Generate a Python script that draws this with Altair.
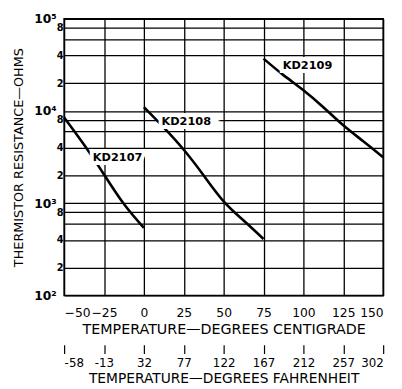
import altair as alt
import pandas as pd

# ---- data ----
c_ticks = [-50, -25, 0, 25, 50, 75, 100, 125, 150]
f_labels = ["-58", "-13", "32", "77", "122", "167", "212", "257", "302"]
y_grid = [100, 200, 400, 600, 800, 1000, 2000, 4000, 6000, 8000,
          10000, 20000, 40000, 60000, 80000, 100000]

kd2107_t = [-50, -37.5, -25, -12.5, 0]
kd2107_r = [8500, 4300, 2050, 980, 540]
kd2108_t = [0, 12.5, 25, 37.5, 50, 62.5, 75]
kd2108_r = [11000, 6600, 3800, 2000, 1050, 650, 410]
kd2109_t = [75, 87.5, 100, 112.5, 125, 137.5, 150]
kd2109_r = [37000, 24500, 16800, 11000, 7000, 4700, 3150]

label_names = ["KD2107", "KD2108", "KD2109"]
label_t = [-32, 11, 87]
label_r = [3100, 7600, 30800]

FONT = "DejaVu Sans"

rows = []
for name, ts, rs in [("KD2107", kd2107_t, kd2107_r),
                     ("KD2108", kd2108_t, kd2108_r),
                     ("KD2109", kd2109_t, kd2109_r)]:
    for t, r in zip(ts, rs):
        rows.append({"series": name, "t": t, "r": r})
curves = pd.DataFrame(rows)
labels = pd.DataFrame({"name": label_names, "t": label_t, "r": label_r})

xscale = alt.Scale(domain=[-50, 150], nice=False, zero=False)
yscale = alt.Scale(type="log", domain=[100, 100000], nice=False)

major_test = "datum.value==100||datum.value==1000||datum.value==10000||datum.value==100000"
lead = "(datum.value<1000?datum.value/100:datum.value<10000?datum.value/1000:datum.value/10000)"
y_label_expr = (
    "datum.value==100?'10²':datum.value==1000?'10³':datum.value==10000?'10⁴':"
    "datum.value==100000?'10⁵':" + lead + "==6?'':''+" + lead
)

x_axis_c = alt.Axis(
    values=c_ticks, grid=True, gridColor="black", gridOpacity=1, gridWidth=1.3,
    domain=False, ticks=False, labelPadding=11, labelFont=FONT, labelFontSize=12.5,
    labelColor="black", labelOverlap=False,
    title="TEMPERATURE—DEGREES CENTIGRADE", titleFont=FONT,
    titleFontSize=14.5, titleFontWeight="normal", titleColor="black", titlePadding=4,
)
y_axis = alt.Axis(
    values=y_grid, grid=True, gridColor="black", gridOpacity=1, gridWidth=1.3,
    domain=False, ticks=False, labelExpr=y_label_expr, labelFont=FONT,
    labelOverlap=False,
    labelFontSize={"condition": {"test": major_test, "value": 12.5}, "value": 10},
    labelPadding={"condition": {"test": major_test, "value": 8}, "value": 1},
    labelColor="black", labelFontWeight="bold",
    title="THERMISTOR RESISTANCE—OHMS", titleFont=FONT, titleFontSize=13,
    titleFontWeight="normal", titleColor="black", titlePadding=8,
)

f_vals = "[" + ",".join(str(v) for v in c_ticks) + "]"
f_labs = "[" + ",".join("'" + s + "'" for s in f_labels) + "]"
x_axis_f = alt.Axis(
    orient="bottom", offset=50, values=c_ticks, grid=False, domain=False,
    ticks=True, tickSize=9, tickColor="black", tickWidth=1.2, labelOverlap=False,
    labelExpr=f"{f_labs}[indexof({f_vals}, datum.value)]",
    labelPadding=4, labelFont=FONT, labelFontSize=12, labelColor="black",
    title="TEMPERATURE—DEGREES FAHRENHEIT", titleFont=FONT, titleFontSize=14,
    titleFontWeight="normal", titleColor="black", titlePadding=3,
)

lines = alt.Chart(curves).mark_line(
    interpolate="natural", color="black", strokeWidth=2.6
).encode(
    x=alt.X("t:Q", scale=xscale, axis=x_axis_c),
    y=alt.Y("r:Q", scale=yscale, axis=y_axis),
    detail="series:N",
)

halo = alt.Chart(labels).mark_text(
    align="left", baseline="middle", font=FONT, fontSize=11.5, fontWeight="bold",
    stroke="white", strokeWidth=8, fill="white", strokeJoin="miter"
).encode(x=alt.X("t:Q", scale=xscale, axis=None),
         y=alt.Y("r:Q", scale=yscale), text="name:N")

txt = alt.Chart(labels).mark_text(
    align="left", baseline="middle", font=FONT, fontSize=11.5, fontWeight="bold",
    color="black"
).encode(x=alt.X("t:Q", scale=xscale, axis=None),
         y=alt.Y("r:Q", scale=yscale), text="name:N")

fahr = alt.Chart(curves).mark_point(opacity=0).encode(
    x=alt.X("t:Q", scale=xscale, axis=x_axis_f),
    y=alt.Y("r:Q", scale=yscale),
)

chart = alt.layer(lines, halo, txt, fahr).resolve_axis(x="independent").properties(
    width=324, height=281,
    padding={"left": 5, "top": 2, "right": 5, "bottom": 0},
).configure(background="white").configure_view(stroke="black", strokeWidth=1.6)

chart.save("out.html", embed_options={"renderer": "svg", "actions": False})
